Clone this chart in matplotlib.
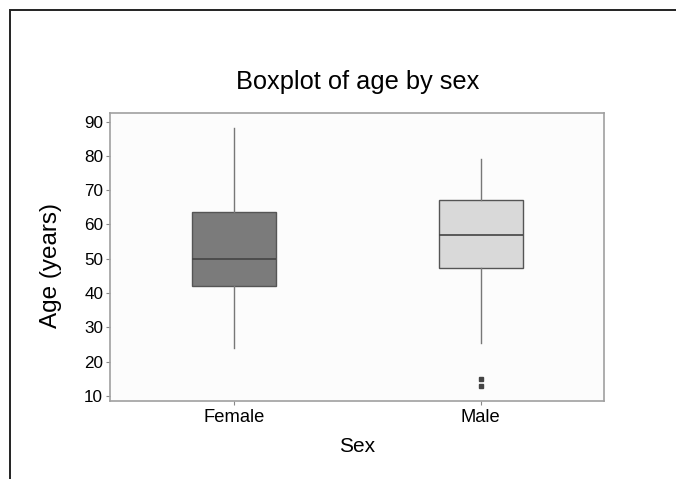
import matplotlib
matplotlib.use("Agg")
import matplotlib.pyplot as plt
from matplotlib.patches import Rectangle

plt.rcParams["font.family"] = ["Liberation Sans", "DejaVu Sans"]

# ── Summary statistics per group ─────────────────────────────────────────────
groups   = ["Female", "Male"]
whis_lo  = [24.0, 25.5]
q1       = [42.0, 47.3]
median   = [50.0, 57.0]
q3       = [63.5, 67.0]
whis_hi  = [88.0, 79.0]
outliers = [[], [13.0, 15.0]]

box_fill = ["#7b7b7b", "#d9d9d9"]
EDGE     = "#555555"
SPINE    = "#a0a0a0"
TEXT     = "#000000"

stats = []
for i, name in enumerate(groups):
    stats.append(dict(label=name, whislo=whis_lo[i], q1=q1[i], med=median[i],
                      q3=q3[i], whishi=whis_hi[i], fliers=outliers[i]))

fig = plt.figure(figsize=(6.76, 4.79), dpi=100, facecolor="white")

# frame around the figure (only left and top edges fall inside the canvas)
fig.add_artist(Rectangle((10 / 676, -0.1), 1.2, 1 - 10 / 479 + 0.1,
                         transform=fig.transFigure, fill=False,
                         ec="#222222", lw=1.4))

ax = fig.add_axes([0.163, 0.163, 0.731, 0.601])
ax.set_facecolor("#fcfcfc")

ax.bxp(stats, positions=[1, 2], widths=0.34, patch_artist=True,
       showcaps=False,
       boxprops=dict(ec=EDGE, lw=1.0),
       medianprops=dict(color="#444444", lw=1.2),
       whiskerprops=dict(color="#777777", lw=1.0),
       flierprops=dict(marker="s", markersize=2.5, mfc="#444444",
                       mec="#444444"))

for patch, fc in zip(ax.patches, box_fill):
    patch.set_facecolor(fc)

ax.set_xlim(0.5, 2.5)
ax.set_ylim(8.5, 92.5)
ax.set_yticks(range(10, 91, 10))
ax.set_xticks([1, 2])
ax.set_xticklabels(groups)

for sp in ax.spines.values():
    sp.set_color(SPINE)
    sp.set_linewidth(1.2)
ax.tick_params(axis="both", colors="#888888", length=3, width=0.8,
               labelcolor=TEXT)
ax.tick_params(axis="y", labelsize=12.3, pad=2)
ax.tick_params(axis="x", labelsize=13.2, pad=3)

ax.set_title("Boxplot of age by sex", fontsize=18.3, color=TEXT, pad=17)
ax.set_ylabel("Age (years)", fontsize=17.5, color=TEXT)
ax.yaxis.set_label_coords(-0.097, 0.47)
ax.set_xlabel("Sex", fontsize=15, color=TEXT, labelpad=8)

plt.savefig("out.png", dpi=100, facecolor="white")
